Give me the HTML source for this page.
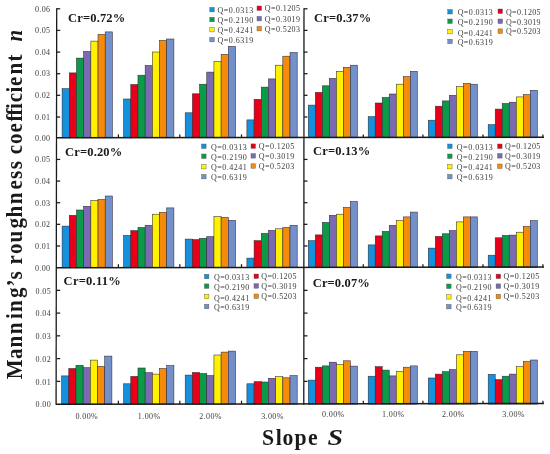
<!DOCTYPE html>
<html><head><meta charset="utf-8"><title>Manning roughness chart</title>
<style>html,body{margin:0;padding:0;background:#fff}body{width:550px;height:454px;overflow:hidden}svg{display:block}.f,.f text,.f tspan{font-family:"Liberation Serif",serif}</style></head>
<body>
<svg width="550" height="454" viewBox="0 0 550 454">
<rect width="550" height="454" fill="#fff"/>
<g stroke="#2e2a33" stroke-width="0.55">
<rect x="62.10" y="88.70" width="7.19" height="49.10" fill="#1590dd"/>
<rect x="69.29" y="72.90" width="7.19" height="64.90" fill="#e8001a"/>
<rect x="76.47" y="58.10" width="7.19" height="79.70" fill="#0b9b48"/>
<rect x="83.66" y="51.50" width="7.19" height="86.30" fill="#7b69b3"/>
<rect x="90.84" y="41.10" width="7.19" height="96.70" fill="#fff100"/>
<rect x="98.03" y="34.50" width="7.19" height="103.30" fill="#f58a0b"/>
<rect x="105.21" y="31.90" width="7.19" height="105.90" fill="#7390cb"/>
<rect x="123.60" y="99.00" width="7.19" height="38.80" fill="#1590dd"/>
<rect x="130.79" y="84.50" width="7.19" height="53.30" fill="#e8001a"/>
<rect x="137.97" y="75.20" width="7.19" height="62.60" fill="#0b9b48"/>
<rect x="145.16" y="65.50" width="7.19" height="72.30" fill="#7b69b3"/>
<rect x="152.34" y="52.00" width="7.19" height="85.80" fill="#fff100"/>
<rect x="159.53" y="40.40" width="7.19" height="97.40" fill="#f58a0b"/>
<rect x="166.71" y="39.00" width="7.19" height="98.80" fill="#7390cb"/>
<rect x="185.20" y="112.80" width="7.19" height="25.00" fill="#1590dd"/>
<rect x="192.39" y="93.80" width="7.19" height="44.00" fill="#e8001a"/>
<rect x="199.57" y="84.20" width="7.19" height="53.60" fill="#0b9b48"/>
<rect x="206.76" y="72.10" width="7.19" height="65.70" fill="#7b69b3"/>
<rect x="213.94" y="61.50" width="7.19" height="76.30" fill="#fff100"/>
<rect x="221.13" y="54.40" width="7.19" height="83.40" fill="#f58a0b"/>
<rect x="228.31" y="46.40" width="7.19" height="91.40" fill="#7390cb"/>
<rect x="246.90" y="119.90" width="7.19" height="17.90" fill="#1590dd"/>
<rect x="254.09" y="99.30" width="7.19" height="38.50" fill="#e8001a"/>
<rect x="261.27" y="87.10" width="7.19" height="50.70" fill="#0b9b48"/>
<rect x="268.46" y="78.90" width="7.19" height="58.90" fill="#7b69b3"/>
<rect x="275.64" y="65.20" width="7.19" height="72.60" fill="#fff100"/>
<rect x="282.83" y="56.20" width="7.19" height="81.60" fill="#f58a0b"/>
<rect x="290.01" y="52.50" width="7.19" height="85.30" fill="#7390cb"/>
<rect x="308.30" y="105.10" width="7.01" height="32.70" fill="#1590dd"/>
<rect x="315.31" y="92.40" width="7.01" height="45.40" fill="#e8001a"/>
<rect x="322.33" y="85.80" width="7.01" height="52.00" fill="#0b9b48"/>
<rect x="329.34" y="78.40" width="7.01" height="59.40" fill="#7b69b3"/>
<rect x="336.36" y="71.30" width="7.01" height="66.50" fill="#fff100"/>
<rect x="343.37" y="67.30" width="7.01" height="70.50" fill="#f58a0b"/>
<rect x="350.39" y="65.20" width="7.01" height="72.60" fill="#7390cb"/>
<rect x="368.20" y="116.70" width="7.01" height="21.10" fill="#1590dd"/>
<rect x="375.21" y="103.00" width="7.01" height="34.80" fill="#e8001a"/>
<rect x="382.23" y="97.50" width="7.01" height="40.30" fill="#0b9b48"/>
<rect x="389.24" y="94.00" width="7.01" height="43.80" fill="#7b69b3"/>
<rect x="396.26" y="84.20" width="7.01" height="53.60" fill="#fff100"/>
<rect x="403.27" y="76.60" width="7.01" height="61.20" fill="#f58a0b"/>
<rect x="410.29" y="71.30" width="7.01" height="66.50" fill="#7390cb"/>
<rect x="428.30" y="120.20" width="7.01" height="17.60" fill="#1590dd"/>
<rect x="435.31" y="106.20" width="7.01" height="31.60" fill="#e8001a"/>
<rect x="442.33" y="100.90" width="7.01" height="36.90" fill="#0b9b48"/>
<rect x="449.34" y="95.30" width="7.01" height="42.50" fill="#7b69b3"/>
<rect x="456.36" y="86.60" width="7.01" height="51.20" fill="#fff100"/>
<rect x="463.37" y="83.40" width="7.01" height="54.40" fill="#f58a0b"/>
<rect x="470.39" y="84.20" width="7.01" height="53.60" fill="#7390cb"/>
<rect x="488.20" y="124.70" width="7.01" height="13.10" fill="#1590dd"/>
<rect x="495.21" y="109.10" width="7.01" height="28.70" fill="#e8001a"/>
<rect x="502.23" y="103.50" width="7.01" height="34.30" fill="#0b9b48"/>
<rect x="509.24" y="102.20" width="7.01" height="35.60" fill="#7b69b3"/>
<rect x="516.26" y="96.90" width="7.01" height="40.90" fill="#fff100"/>
<rect x="523.27" y="94.50" width="7.01" height="43.30" fill="#f58a0b"/>
<rect x="530.29" y="90.30" width="7.01" height="47.50" fill="#7390cb"/>
<rect x="62.10" y="226.10" width="7.19" height="41.50" fill="#1590dd"/>
<rect x="69.29" y="215.30" width="7.19" height="52.30" fill="#e8001a"/>
<rect x="76.47" y="210.00" width="7.19" height="57.60" fill="#0b9b48"/>
<rect x="83.66" y="206.30" width="7.19" height="61.30" fill="#7b69b3"/>
<rect x="90.84" y="200.50" width="7.19" height="67.10" fill="#fff100"/>
<rect x="98.03" y="199.40" width="7.19" height="68.20" fill="#f58a0b"/>
<rect x="105.21" y="196.00" width="7.19" height="71.60" fill="#7390cb"/>
<rect x="123.60" y="235.40" width="7.19" height="32.20" fill="#1590dd"/>
<rect x="130.79" y="230.60" width="7.19" height="37.00" fill="#e8001a"/>
<rect x="137.97" y="227.50" width="7.19" height="40.10" fill="#0b9b48"/>
<rect x="145.16" y="225.30" width="7.19" height="42.30" fill="#7b69b3"/>
<rect x="152.34" y="214.20" width="7.19" height="53.40" fill="#fff100"/>
<rect x="159.53" y="212.40" width="7.19" height="55.20" fill="#f58a0b"/>
<rect x="166.71" y="207.90" width="7.19" height="59.70" fill="#7390cb"/>
<rect x="185.20" y="239.10" width="7.19" height="28.50" fill="#1590dd"/>
<rect x="192.39" y="239.60" width="7.19" height="28.00" fill="#e8001a"/>
<rect x="199.57" y="238.30" width="7.19" height="29.30" fill="#0b9b48"/>
<rect x="206.76" y="236.70" width="7.19" height="30.90" fill="#7b69b3"/>
<rect x="213.94" y="216.60" width="7.19" height="51.00" fill="#fff100"/>
<rect x="221.13" y="217.40" width="7.19" height="50.20" fill="#f58a0b"/>
<rect x="228.31" y="220.30" width="7.19" height="47.30" fill="#7390cb"/>
<rect x="246.90" y="258.10" width="7.19" height="9.50" fill="#1590dd"/>
<rect x="254.09" y="240.70" width="7.19" height="26.90" fill="#e8001a"/>
<rect x="261.27" y="233.50" width="7.19" height="34.10" fill="#0b9b48"/>
<rect x="268.46" y="230.40" width="7.19" height="37.20" fill="#7b69b3"/>
<rect x="275.64" y="228.80" width="7.19" height="38.80" fill="#fff100"/>
<rect x="282.83" y="227.50" width="7.19" height="40.10" fill="#f58a0b"/>
<rect x="290.01" y="225.30" width="7.19" height="42.30" fill="#7390cb"/>
<rect x="308.30" y="240.70" width="7.01" height="26.90" fill="#1590dd"/>
<rect x="315.31" y="234.90" width="7.01" height="32.70" fill="#e8001a"/>
<rect x="322.33" y="222.40" width="7.01" height="45.20" fill="#0b9b48"/>
<rect x="329.34" y="215.30" width="7.01" height="52.30" fill="#7b69b3"/>
<rect x="336.36" y="214.20" width="7.01" height="53.40" fill="#fff100"/>
<rect x="343.37" y="207.40" width="7.01" height="60.20" fill="#f58a0b"/>
<rect x="350.39" y="201.50" width="7.01" height="66.10" fill="#7390cb"/>
<rect x="368.20" y="244.90" width="7.01" height="22.70" fill="#1590dd"/>
<rect x="375.21" y="235.90" width="7.01" height="31.70" fill="#e8001a"/>
<rect x="382.23" y="231.40" width="7.01" height="36.20" fill="#0b9b48"/>
<rect x="389.24" y="225.30" width="7.01" height="42.30" fill="#7b69b3"/>
<rect x="396.26" y="220.60" width="7.01" height="47.00" fill="#fff100"/>
<rect x="403.27" y="216.90" width="7.01" height="50.70" fill="#f58a0b"/>
<rect x="410.29" y="212.10" width="7.01" height="55.50" fill="#7390cb"/>
<rect x="428.30" y="248.10" width="7.01" height="19.50" fill="#1590dd"/>
<rect x="435.31" y="236.40" width="7.01" height="31.20" fill="#e8001a"/>
<rect x="442.33" y="233.80" width="7.01" height="33.80" fill="#0b9b48"/>
<rect x="449.34" y="230.60" width="7.01" height="37.00" fill="#7b69b3"/>
<rect x="456.36" y="221.90" width="7.01" height="45.70" fill="#fff100"/>
<rect x="463.37" y="216.90" width="7.01" height="50.70" fill="#f58a0b"/>
<rect x="470.39" y="216.90" width="7.01" height="50.70" fill="#7390cb"/>
<rect x="488.20" y="255.20" width="7.01" height="12.40" fill="#1590dd"/>
<rect x="495.21" y="237.80" width="7.01" height="29.80" fill="#e8001a"/>
<rect x="502.23" y="235.40" width="7.01" height="32.20" fill="#0b9b48"/>
<rect x="509.24" y="235.10" width="7.01" height="32.50" fill="#7b69b3"/>
<rect x="516.26" y="232.20" width="7.01" height="35.40" fill="#fff100"/>
<rect x="523.27" y="226.40" width="7.01" height="41.20" fill="#f58a0b"/>
<rect x="530.29" y="220.60" width="7.01" height="47.00" fill="#7390cb"/>
<rect x="61.60" y="375.90" width="7.19" height="28.20" fill="#1590dd"/>
<rect x="68.79" y="368.50" width="7.19" height="35.60" fill="#e8001a"/>
<rect x="75.97" y="365.30" width="7.19" height="38.80" fill="#0b9b48"/>
<rect x="83.16" y="367.70" width="7.19" height="36.40" fill="#7b69b3"/>
<rect x="90.34" y="360.10" width="7.19" height="44.00" fill="#fff100"/>
<rect x="97.53" y="366.40" width="7.19" height="37.70" fill="#f58a0b"/>
<rect x="104.71" y="356.10" width="7.19" height="48.00" fill="#7390cb"/>
<rect x="123.60" y="383.80" width="7.19" height="20.30" fill="#1590dd"/>
<rect x="130.79" y="376.40" width="7.19" height="27.70" fill="#e8001a"/>
<rect x="137.97" y="368.00" width="7.19" height="36.10" fill="#0b9b48"/>
<rect x="145.16" y="372.70" width="7.19" height="31.40" fill="#7b69b3"/>
<rect x="152.34" y="374.10" width="7.19" height="30.00" fill="#fff100"/>
<rect x="159.53" y="368.50" width="7.19" height="35.60" fill="#f58a0b"/>
<rect x="166.71" y="365.60" width="7.19" height="38.50" fill="#7390cb"/>
<rect x="185.20" y="375.10" width="7.19" height="29.00" fill="#1590dd"/>
<rect x="192.39" y="372.50" width="7.19" height="31.60" fill="#e8001a"/>
<rect x="199.57" y="373.50" width="7.19" height="30.60" fill="#0b9b48"/>
<rect x="206.76" y="375.60" width="7.19" height="28.50" fill="#7b69b3"/>
<rect x="213.94" y="355.00" width="7.19" height="49.10" fill="#fff100"/>
<rect x="221.13" y="352.10" width="7.19" height="52.00" fill="#f58a0b"/>
<rect x="228.31" y="351.10" width="7.19" height="53.00" fill="#7390cb"/>
<rect x="246.90" y="383.80" width="7.19" height="20.30" fill="#1590dd"/>
<rect x="254.09" y="381.70" width="7.19" height="22.40" fill="#e8001a"/>
<rect x="261.27" y="382.00" width="7.19" height="22.10" fill="#0b9b48"/>
<rect x="268.46" y="378.30" width="7.19" height="25.80" fill="#7b69b3"/>
<rect x="275.64" y="376.70" width="7.19" height="27.40" fill="#fff100"/>
<rect x="282.83" y="377.80" width="7.19" height="26.30" fill="#f58a0b"/>
<rect x="290.01" y="375.60" width="7.19" height="28.50" fill="#7390cb"/>
<rect x="308.30" y="380.10" width="7.01" height="24.00" fill="#1590dd"/>
<rect x="315.31" y="367.20" width="7.01" height="36.90" fill="#e8001a"/>
<rect x="322.33" y="365.90" width="7.01" height="38.20" fill="#0b9b48"/>
<rect x="329.34" y="362.20" width="7.01" height="41.90" fill="#7b69b3"/>
<rect x="336.36" y="364.50" width="7.01" height="39.60" fill="#fff100"/>
<rect x="343.37" y="360.80" width="7.01" height="43.30" fill="#f58a0b"/>
<rect x="350.39" y="366.10" width="7.01" height="38.00" fill="#7390cb"/>
<rect x="368.20" y="376.20" width="7.01" height="27.90" fill="#1590dd"/>
<rect x="375.21" y="366.70" width="7.01" height="37.40" fill="#e8001a"/>
<rect x="382.23" y="370.10" width="7.01" height="34.00" fill="#0b9b48"/>
<rect x="389.24" y="375.90" width="7.01" height="28.20" fill="#7b69b3"/>
<rect x="396.26" y="371.40" width="7.01" height="32.70" fill="#fff100"/>
<rect x="403.27" y="367.20" width="7.01" height="36.90" fill="#f58a0b"/>
<rect x="410.29" y="365.90" width="7.01" height="38.20" fill="#7390cb"/>
<rect x="428.30" y="378.00" width="7.01" height="26.10" fill="#1590dd"/>
<rect x="435.31" y="374.10" width="7.01" height="30.00" fill="#e8001a"/>
<rect x="442.33" y="371.70" width="7.01" height="32.40" fill="#0b9b48"/>
<rect x="449.34" y="369.60" width="7.01" height="34.50" fill="#7b69b3"/>
<rect x="456.36" y="354.80" width="7.01" height="49.30" fill="#fff100"/>
<rect x="463.37" y="351.30" width="7.01" height="52.80" fill="#f58a0b"/>
<rect x="470.39" y="351.30" width="7.01" height="52.80" fill="#7390cb"/>
<rect x="488.20" y="374.30" width="7.01" height="29.80" fill="#1590dd"/>
<rect x="495.21" y="379.60" width="7.01" height="24.50" fill="#e8001a"/>
<rect x="502.23" y="376.20" width="7.01" height="27.90" fill="#0b9b48"/>
<rect x="509.24" y="374.10" width="7.01" height="30.00" fill="#7b69b3"/>
<rect x="516.26" y="366.70" width="7.01" height="37.40" fill="#fff100"/>
<rect x="523.27" y="361.60" width="7.01" height="42.50" fill="#f58a0b"/>
<rect x="530.29" y="360.00" width="7.01" height="44.10" fill="#7390cb"/>
</g>
<g stroke="#1a1a1a" stroke-width="1.3" fill="none">
<line x1="56.7" y1="8.25" x2="56.1" y2="404.7"/>
<line x1="304.0" y1="8.25" x2="303.79999999999995" y2="404.7"/>
<line x1="56" y1="137.85000000000002" x2="543.9" y2="137.20000000000002" stroke-width="1.5"/>
<line x1="56" y1="267.65000000000003" x2="543.9" y2="267.0" stroke-width="1.5"/>
<line x1="56" y1="404.15000000000003" x2="543.9" y2="403.5" stroke-width="1.5"/>
</g>
<g stroke="#1a1a1a" stroke-width="1.25">
<line x1="56.6" y1="8.80" x2="60.2" y2="8.80"/>
<line x1="56.6" y1="30.40" x2="60.2" y2="30.40"/>
<line x1="56.6" y1="52.10" x2="60.2" y2="52.10"/>
<line x1="56.6" y1="73.70" x2="60.2" y2="73.70"/>
<line x1="56.6" y1="95.30" x2="60.2" y2="95.30"/>
<line x1="56.6" y1="117.00" x2="60.2" y2="117.00"/>
<line x1="56.6" y1="159.43" x2="60.2" y2="159.43"/>
<line x1="56.6" y1="181.07" x2="60.2" y2="181.07"/>
<line x1="56.6" y1="202.70" x2="60.2" y2="202.70"/>
<line x1="56.6" y1="224.33" x2="60.2" y2="224.33"/>
<line x1="56.6" y1="245.97" x2="60.2" y2="245.97"/>
<line x1="56.6" y1="290.35" x2="60.2" y2="290.35"/>
<line x1="56.6" y1="313.10" x2="60.2" y2="313.10"/>
<line x1="56.6" y1="335.85" x2="60.2" y2="335.85"/>
<line x1="56.6" y1="358.60" x2="60.2" y2="358.60"/>
<line x1="56.6" y1="381.35" x2="60.2" y2="381.35"/>
<line x1="118.40" y1="137.8" x2="118.40" y2="134.4"/>
<line x1="179.80" y1="137.8" x2="179.80" y2="134.4"/>
<line x1="241.50" y1="137.8" x2="241.50" y2="134.4"/>
<line x1="118.40" y1="267.6" x2="118.40" y2="264.20000000000005"/>
<line x1="179.80" y1="267.6" x2="179.80" y2="264.20000000000005"/>
<line x1="241.50" y1="267.6" x2="241.50" y2="264.20000000000005"/>
<line x1="118.40" y1="404.1" x2="118.40" y2="400.70000000000005"/>
<line x1="179.80" y1="404.1" x2="179.80" y2="400.70000000000005"/>
<line x1="241.50" y1="404.1" x2="241.50" y2="400.70000000000005"/>
<line x1="303.9" y1="8.80" x2="307.5" y2="8.80"/>
<line x1="303.9" y1="30.40" x2="307.5" y2="30.40"/>
<line x1="303.9" y1="52.10" x2="307.5" y2="52.10"/>
<line x1="303.9" y1="73.70" x2="307.5" y2="73.70"/>
<line x1="303.9" y1="95.30" x2="307.5" y2="95.30"/>
<line x1="303.9" y1="117.00" x2="307.5" y2="117.00"/>
<line x1="303.9" y1="159.43" x2="307.5" y2="159.43"/>
<line x1="303.9" y1="181.07" x2="307.5" y2="181.07"/>
<line x1="303.9" y1="202.70" x2="307.5" y2="202.70"/>
<line x1="303.9" y1="224.33" x2="307.5" y2="224.33"/>
<line x1="303.9" y1="245.97" x2="307.5" y2="245.97"/>
<line x1="303.9" y1="290.35" x2="307.5" y2="290.35"/>
<line x1="303.9" y1="313.10" x2="307.5" y2="313.10"/>
<line x1="303.9" y1="335.85" x2="307.5" y2="335.85"/>
<line x1="303.9" y1="358.60" x2="307.5" y2="358.60"/>
<line x1="303.9" y1="381.35" x2="307.5" y2="381.35"/>
<line x1="363.30" y1="137.8" x2="363.30" y2="134.4"/>
<line x1="422.90" y1="137.8" x2="422.90" y2="134.4"/>
<line x1="483.00" y1="137.8" x2="483.00" y2="134.4"/>
<line x1="542.90" y1="137.8" x2="542.90" y2="134.4"/>
<line x1="363.30" y1="267.6" x2="363.30" y2="264.20000000000005"/>
<line x1="422.90" y1="267.6" x2="422.90" y2="264.20000000000005"/>
<line x1="483.00" y1="267.6" x2="483.00" y2="264.20000000000005"/>
<line x1="542.90" y1="267.6" x2="542.90" y2="264.20000000000005"/>
<line x1="363.30" y1="404.1" x2="363.30" y2="400.70000000000005"/>
<line x1="422.90" y1="404.1" x2="422.90" y2="400.70000000000005"/>
<line x1="483.00" y1="404.1" x2="483.00" y2="400.70000000000005"/>
<line x1="542.90" y1="404.1" x2="542.90" y2="400.70000000000005"/>
</g>
<g class="f" font-size="8" fill="#3c3c3c" letter-spacing="0.4" text-anchor="end">
<text x="50.5" y="12.00">0.06</text>
<text x="50.5" y="33.10">0.05</text>
<text x="50.5" y="54.80">0.04</text>
<text x="50.5" y="76.40">0.03</text>
<text x="50.5" y="98.00">0.02</text>
<text x="50.5" y="119.70">0.01</text>
<text x="50.5" y="140.70">0.00</text>
<text x="50.5" y="162.33">0.05</text>
<text x="50.5" y="183.97">0.04</text>
<text x="50.5" y="205.60">0.03</text>
<text x="50.5" y="227.23">0.02</text>
<text x="50.5" y="248.87">0.01</text>
<text x="50.5" y="270.50">0.00</text>
<text x="51.1" y="293.65">0.05</text>
<text x="51.1" y="316.40">0.04</text>
<text x="51.1" y="339.15">0.03</text>
<text x="51.1" y="361.90">0.02</text>
<text x="51.1" y="384.65">0.01</text>
<text x="51.1" y="407.40">0.00</text>
</g>
<g class="f" font-size="8" fill="#3c3c3c" letter-spacing="0.4" text-anchor="middle">
<text x="86.80" y="419.1" textLength="22.7">0.00%</text>
<text x="149.20" y="419.1" textLength="22.7">1.00%</text>
<text x="210.60" y="419.1" textLength="22.7">2.00%</text>
<text x="272.50" y="419.1" textLength="22.7">3.00%</text>
<text x="333.30" y="417.3" textLength="22.7">0.00%</text>
<text x="393.30" y="417.3" textLength="22.7">1.00%</text>
<text x="453.30" y="417.3" textLength="22.7">2.00%</text>
<text x="513.60" y="417.3" textLength="22.7">3.00%</text>
</g>
<g class="f" font-size="12.5" font-weight="bold" fill="#1a1a1a" letter-spacing="0.25">
<text x="68.1" y="22.4" textLength="57.4">Cr=0.72%</text>
<text x="314.1" y="22.3" textLength="57.4">Cr=0.37%</text>
<text x="65.1" y="155.6" textLength="57.4">Cr=0.20%</text>
<text x="313.1" y="155.3" textLength="57.4">Cr=0.13%</text>
<text x="63.6" y="284.7" textLength="57.4">Cr=0.11%</text>
<text x="312.7" y="286.9" textLength="57.4">Cr=0.07%</text>
</g>
<g class="f" font-size="8" fill="#3c3c3c" letter-spacing="0.45">
<rect x="209.8" y="7.4" width="4.5" height="4.5" fill="#1590dd" stroke="#555" stroke-width="0.4"/>
<text x="217.6" y="12.6" textLength="36.0">Q=0.0313</text>
<rect x="209.8" y="17.3" width="4.5" height="4.5" fill="#0b9b48" stroke="#555" stroke-width="0.4"/>
<text x="217.6" y="22.7" textLength="36.0">Q=0.2190</text>
<rect x="209.8" y="27.4" width="4.5" height="4.5" fill="#fff100" stroke="#555" stroke-width="0.4"/>
<text x="217.6" y="32.6" textLength="36.0">Q=0.4241</text>
<rect x="209.8" y="37.4" width="4.5" height="4.5" fill="#7390cb" stroke="#555" stroke-width="0.4"/>
<text x="217.6" y="42.6" textLength="36.0">Q=0.6319</text>
<rect x="257" y="6.0" width="4.5" height="4.5" fill="#e8001a" stroke="#555" stroke-width="0.4"/>
<text x="264.8" y="11.2" textLength="35.6">Q=0.1205</text>
<rect x="257" y="16.4" width="4.5" height="4.5" fill="#7b69b3" stroke="#555" stroke-width="0.4"/>
<text x="264.8" y="21.6" textLength="35.6">Q=0.3019</text>
<rect x="257" y="26.4" width="4.5" height="4.5" fill="#f58a0b" stroke="#555" stroke-width="0.4"/>
<text x="264.8" y="31.6" textLength="35.6">Q=0.5203</text>
<rect x="447.8" y="9.5" width="4.5" height="4.5" fill="#1590dd" stroke="#555" stroke-width="0.4"/>
<text x="457.7" y="15.0" textLength="35.4">Q=0.0313</text>
<rect x="447.8" y="19.0" width="4.5" height="4.5" fill="#0b9b48" stroke="#555" stroke-width="0.4"/>
<text x="457.7" y="25.3" textLength="35.4">Q=0.2190</text>
<rect x="447.8" y="29.4" width="4.5" height="4.5" fill="#fff100" stroke="#555" stroke-width="0.4"/>
<text x="457.7" y="35.7" textLength="35.4">Q=0.4241</text>
<rect x="447.8" y="39.2" width="4.5" height="4.5" fill="#7390cb" stroke="#555" stroke-width="0.4"/>
<text x="457.7" y="45.0" textLength="35.4">Q=0.6319</text>
<rect x="498" y="9.0" width="4.5" height="4.5" fill="#e8001a" stroke="#555" stroke-width="0.4"/>
<text x="506" y="14.5" textLength="35.0">Q=0.1205</text>
<rect x="498" y="19.0" width="4.5" height="4.5" fill="#7b69b3" stroke="#555" stroke-width="0.4"/>
<text x="506" y="24.5" textLength="35.0">Q=0.3019</text>
<rect x="498" y="28.9" width="4.5" height="4.5" fill="#f58a0b" stroke="#555" stroke-width="0.4"/>
<text x="506" y="34.4" textLength="35.0">Q=0.5203</text>
<rect x="201.6" y="144.0" width="4.5" height="4.5" fill="#1590dd" stroke="#555" stroke-width="0.4"/>
<text x="211" y="149.7" textLength="36.2">Q=0.0313</text>
<rect x="201.6" y="154.0" width="4.5" height="4.5" fill="#0b9b48" stroke="#555" stroke-width="0.4"/>
<text x="211" y="160.0" textLength="36.2">Q=0.2190</text>
<rect x="201.6" y="164.4" width="4.5" height="4.5" fill="#fff100" stroke="#555" stroke-width="0.4"/>
<text x="211" y="170.3" textLength="36.2">Q=0.4241</text>
<rect x="201.6" y="174.4" width="4.5" height="4.5" fill="#7390cb" stroke="#555" stroke-width="0.4"/>
<text x="211" y="180.3" textLength="36.2">Q=0.6319</text>
<rect x="251" y="143.9" width="4.5" height="4.5" fill="#e8001a" stroke="#555" stroke-width="0.4"/>
<text x="258.7" y="149.1" textLength="36.0">Q=0.1205</text>
<rect x="251" y="153.6" width="4.5" height="4.5" fill="#7b69b3" stroke="#555" stroke-width="0.4"/>
<text x="258.7" y="158.8" textLength="36.0">Q=0.3019</text>
<rect x="251" y="163.8" width="4.5" height="4.5" fill="#f58a0b" stroke="#555" stroke-width="0.4"/>
<text x="258.7" y="169.0" textLength="36.0">Q=0.5203</text>
<rect x="447.6" y="144.0" width="4.5" height="4.5" fill="#1590dd" stroke="#555" stroke-width="0.4"/>
<text x="456.8" y="149.7" textLength="36.4">Q=0.0313</text>
<rect x="447.6" y="154.0" width="4.5" height="4.5" fill="#0b9b48" stroke="#555" stroke-width="0.4"/>
<text x="456.8" y="160.0" textLength="36.4">Q=0.2190</text>
<rect x="447.6" y="164.4" width="4.5" height="4.5" fill="#fff100" stroke="#555" stroke-width="0.4"/>
<text x="456.8" y="170.3" textLength="36.4">Q=0.4241</text>
<rect x="447.6" y="174.4" width="4.5" height="4.5" fill="#7390cb" stroke="#555" stroke-width="0.4"/>
<text x="456.8" y="180.3" textLength="36.4">Q=0.6319</text>
<rect x="497.6" y="144.0" width="4.5" height="4.5" fill="#e8001a" stroke="#555" stroke-width="0.4"/>
<text x="505.1" y="149.1" textLength="35.7">Q=0.1205</text>
<rect x="497.6" y="153.6" width="4.5" height="4.5" fill="#7b69b3" stroke="#555" stroke-width="0.4"/>
<text x="505.1" y="158.7" textLength="35.7">Q=0.3019</text>
<rect x="497.6" y="164.0" width="4.5" height="4.5" fill="#f58a0b" stroke="#555" stroke-width="0.4"/>
<text x="505.1" y="169.1" textLength="35.7">Q=0.5203</text>
<rect x="204.4" y="274.3" width="4.5" height="4.5" fill="#1590dd" stroke="#555" stroke-width="0.4"/>
<text x="214" y="280.2" textLength="35.6">Q=0.0313</text>
<rect x="204.4" y="283.9" width="4.5" height="4.5" fill="#0b9b48" stroke="#555" stroke-width="0.4"/>
<text x="214" y="290.0" textLength="35.6">Q=0.2190</text>
<rect x="204.4" y="294.3" width="4.5" height="4.5" fill="#fff100" stroke="#555" stroke-width="0.4"/>
<text x="214" y="300.6" textLength="35.6">Q=0.4241</text>
<rect x="204.4" y="304.3" width="4.5" height="4.5" fill="#7390cb" stroke="#555" stroke-width="0.4"/>
<text x="214" y="310.4" textLength="35.6">Q=0.6319</text>
<rect x="254" y="274.0" width="4.5" height="4.5" fill="#e8001a" stroke="#555" stroke-width="0.4"/>
<text x="261.2" y="279.2" textLength="35.7">Q=0.1205</text>
<rect x="254" y="283.7" width="4.5" height="4.5" fill="#7b69b3" stroke="#555" stroke-width="0.4"/>
<text x="261.2" y="288.9" textLength="35.7">Q=0.3019</text>
<rect x="254" y="294.0" width="4.5" height="4.5" fill="#f58a0b" stroke="#555" stroke-width="0.4"/>
<text x="261.2" y="299.2" textLength="35.7">Q=0.5203</text>
<rect x="446.6" y="274.0" width="4.5" height="4.5" fill="#1590dd" stroke="#555" stroke-width="0.4"/>
<text x="455.9" y="279.8" textLength="36.1">Q=0.0313</text>
<rect x="446.6" y="284.0" width="4.5" height="4.5" fill="#0b9b48" stroke="#555" stroke-width="0.4"/>
<text x="455.9" y="290.0" textLength="36.1">Q=0.2190</text>
<rect x="446.6" y="294.6" width="4.5" height="4.5" fill="#fff100" stroke="#555" stroke-width="0.4"/>
<text x="455.9" y="300.5" textLength="36.1">Q=0.4241</text>
<rect x="446.6" y="304.4" width="4.5" height="4.5" fill="#7390cb" stroke="#555" stroke-width="0.4"/>
<text x="455.9" y="310.3" textLength="36.1">Q=0.6319</text>
<rect x="496.1" y="274.1" width="4.5" height="4.5" fill="#e8001a" stroke="#555" stroke-width="0.4"/>
<text x="503.5" y="279.3" textLength="36.1">Q=0.1205</text>
<rect x="496.1" y="283.9" width="4.5" height="4.5" fill="#7b69b3" stroke="#555" stroke-width="0.4"/>
<text x="503.5" y="289.1" textLength="36.1">Q=0.3019</text>
<rect x="496.1" y="294.3" width="4.5" height="4.5" fill="#f58a0b" stroke="#555" stroke-width="0.4"/>
<text x="503.5" y="299.4" textLength="36.1">Q=0.5203</text>
</g>
<g class="f" font-weight="bold" fill="#1a1a1a">
<text transform="translate(21.8,0) rotate(-90) scale(0.89,1)" font-size="23.6" style="font-variant-ligatures:none" x="-426.07 -403.37 -390.45 -375.51 -358.54 -350.56 -334.72 -321.91 -313.93 -301.46 -297.08 -285.51 -272.58 -256.74 -244.38 -229.44 -213.03 -201.01 -190.11 -177.87 -173.26 -161.91 -148.99 -136.63 -129.89 -122.47 -114.83 -103.93 -96.52 -83.60 -68.99 -54.27">Manning’s roughness coefficient <tspan font-style="italic" x="-46.74">n</tspan></text>
<text transform="translate(0,444.6) scale(0.93,1)" font-size="23.4" x="281.72 296.45 303.87 316.77 331.08" y="0">Slope</text>
<text transform="translate(327.4,444.8) scale(1.2,1)" font-size="23.2" font-style="italic" x="0" y="0">S</text>
</g>
</svg>
</body></html>
